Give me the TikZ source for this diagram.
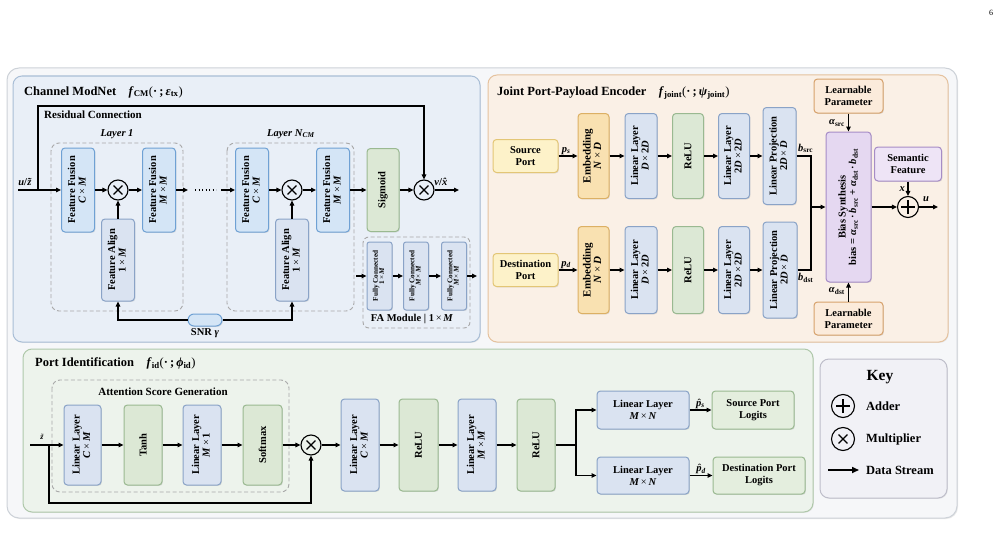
\documentclass[tikz,border=0pt]{standalone}
\usepackage{fontspec}
\setmainfont{Liberation Serif}
\usepackage{graphicx}
\usetikzlibrary{arrows.meta,shadows}

\definecolor{frameF}{HTML}{F6F7F9}
\definecolor{frameD}{HTML}{CDD2D8}
\definecolor{blueF}{HTML}{E9EFF7}
\definecolor{blueD}{HTML}{A9BED6}
\definecolor{orF}{HTML}{FAF0E6}
\definecolor{orD}{HTML}{E5C29E}
\definecolor{grF}{HTML}{EDF3EC}
\definecolor{grD}{HTML}{AFC8AA}
\definecolor{keyF}{HTML}{F1F1F6}
\definecolor{keyD}{HTML}{BEBECA}
\definecolor{ffF}{HTML}{D4E5F6}
\definecolor{ffD}{HTML}{6FA1D4}
\definecolor{llF}{HTML}{DAE3F1}
\definecolor{llD}{HTML}{8AA3C7}
\definecolor{gbF}{HTML}{DCE8D5}
\definecolor{gbD}{HTML}{9AB991}
\definecolor{ypF}{HTML}{FDF2C9}
\definecolor{ypD}{HTML}{E3C676}
\definecolor{emF}{HTML}{F9E1B1}
\definecolor{emD}{HTML}{DCB064}
\definecolor{lpF}{HTML}{FBEBDB}
\definecolor{lpD}{HTML}{D7A26C}
\definecolor{bsF}{HTML}{E5D8F1}
\definecolor{bsD}{HTML}{A68CC6}
\definecolor{sfF}{HTML}{EEE4F6}
\definecolor{lgF}{HTML}{E4EEDE}
\definecolor{dashC}{HTML}{A8A8A8}

\newcommand{\mi}[1]{\textbf{\textit{#1}}}
\newcommand{\vt}[2]{\rotatebox{90}{\begin{tabular}{@{}c@{}}#1\\[-1.5pt]#2\end{tabular}}}
\newcommand{\vo}[1]{\rotatebox{90}{#1}}
\newcommand{\tx}{\,{\mdseries ×}\,}
% accent placed over a bold italic letter, without extra width
\newcommand{\accit}[2]{\leavevmode\setbox0\hbox{\mi{#2}}\rlap{\hbox to \wd0{\hss\kern0.12em{\mdseries #1}\hss}}\box0}

\tikzset{
  conn/.style={line width=1.1pt, -{Triangle[length=5pt,width=4.5pt]}},
  plain/.style={line width=1.1pt},
  bx/.style={draw, rounded corners=3.5pt, line width=1pt, inner sep=0pt, align=center,
    font=\fontsize{10.5}{12}\selectfont\bfseries,
    drop shadow={shadow xshift=0.9pt, shadow yshift=-0.9pt, opacity=0.22}},
  sz/.style 2 args={minimum width=#1pt, minimum height=#2pt},
  ffbox/.style={bx, fill=ffF, draw=ffD},
  llbox/.style={bx, fill=llF, draw=llD},
  gbox/.style={bx, fill=gbF, draw=gbD},
  ypbox/.style={bx, fill=ypF, draw=ypD},
  embox/.style={bx, fill=emF, draw=emD},
  lpbox/.style={bx, fill=lpF, draw=lpD},
  bsbox/.style={bx, fill=bsF, draw=bsD},
  sfbox/.style={bx, fill=sfF, draw=bsD},
  lgbox/.style={bx, fill=lgF, draw=gbD},
  panel/.style={line width=1pt, rounded corners=9pt,
    drop shadow={shadow xshift=0.8pt, shadow yshift=-0.8pt, opacity=0.15}},
  dbox/.style={draw=dashC, line width=0.9pt, dashed, dash pattern=on 4pt off 2.5pt, rounded corners=8pt},
  ttl/.style={font=\fontsize{12.5}{14}\selectfont\bfseries, anchor=west, inner sep=0pt},
  lab/.style={font=\fontsize{10.5}{12}\selectfont\bfseries, inner sep=1pt},
  keyt/.style={font=\fontsize{12.5}{14}\selectfont\bfseries, anchor=west, inner sep=0pt},
  mult/.style={circle, draw, line width=1.1pt, minimum size=20pt, inner sep=0pt,
    path picture={\draw[line width=1.1pt]
      ([xshift=-4.4pt,yshift=-4.4pt]path picture bounding box.center) -- ([xshift=4.4pt,yshift=4.4pt]path picture bounding box.center)
      ([xshift=-4.4pt,yshift=4.4pt]path picture bounding box.center) -- ([xshift=4.4pt,yshift=-4.4pt]path picture bounding box.center);}},
  adder/.style={circle, draw, line width=1.1pt, minimum size=21pt, inner sep=0pt,
    path picture={\draw[line width=1.1pt]
      ([xshift=-7pt]path picture bounding box.center) -- ([xshift=7pt]path picture bounding box.center)
      ([yshift=-7pt]path picture bounding box.center) -- ([yshift=7pt]path picture bounding box.center);}},
}

\begin{document}
\begin{tikzpicture}[x=1pt,y=-1pt]
\useasboundingbox (0,0) rectangle (1001,535);

% page number
\node[font=\fontsize{8}{9}\selectfont, inner sep=0pt] (pg) at (991,13) {6};

% outer frame and panels
\draw[fill=frameF, draw=frameD, line width=1pt, rounded corners=12pt,
  drop shadow={shadow xshift=1pt, shadow yshift=-1pt, opacity=0.18}] (7,68) rectangle (957,518);
\draw[panel, fill=blueF, draw=blueD] (13,76) rectangle (480,342);
\draw[panel, fill=orF, draw=orD] (488,75) rectangle (948,342);
\draw[panel, fill=grF, draw=grD] (23,349) rectangle (813,512);
\draw[panel, fill=keyF, draw=keyD] (820,359) rectangle (947,498);

%================ Channel ModNet
\node[ttl] (t1) at (24,92) {Channel ModNet\quad \mi{f}\textsubscript{CM}{\mdseries(}·\,;\,\mi{ε}\textsubscript{tx}{\mdseries)}};
\node[lab, anchor=west, font=\fontsize{11}{13}\selectfont\bfseries] (rc) at (43,115) {Residual Connection};

\draw[dbox] (51,143) rectangle (183,311);
\draw[dbox] (227,143) rectangle (354,311);
\node[lab] (l1) at (117,134) {\textit{Layer 1}};
\node[lab] (lN) at (291,134) {\textit{Layer N}\textsubscript{\textit{CM}}};

\node[ffbox, sz={33}{84}] (ff1) at (78,190) {\vt{Feature Fusion}{\mi{C}\tx\mi{M}}};
\node[mult] (m1) at (118,190) {};
\node[ffbox, sz={33}{84}] (ff2) at (159,190) {\vt{Feature Fusion}{\mi{M}\tx\mi{M}}};
\node[llbox, sz={33}{82}] (fa1) at (118,260) {\vt{Feature Align}{1\tx\mi{M}}};

\node[ffbox, sz={33}{84}] (ff3) at (252,190) {\vt{Feature Fusion}{\mi{C}\tx\mi{M}}};
\node[mult] (m2) at (292,190) {};
\node[ffbox, sz={33}{84}] (ff4) at (333,190) {\vt{Feature Fusion}{\mi{M}\tx\mi{M}}};
\node[llbox, sz={33}{82}] (fa2) at (292,260) {\vt{Feature Align}{1\tx\mi{M}}};

\node[gbox, sz={32}{83}] (sig) at (383,190) {\vo{Sigmoid}};
\node[mult] (m3) at (424,190) {};

\node[ffbox, sz={34}{12}, rounded corners=6pt] (snr) at (205,320) {};
\node[lab] (snrl) at (205,333) {SNR \mi{γ}};

\coordinate (cin) at (18,190);
\coordinate (rj) at (38,190);
\coordinate (rtop) at (38,106);
\coordinate (cout) at (459,190);
\coordinate (dA) at (188,190);
\coordinate (dB) at (195,190);
\coordinate (dC) at (216,190);
\coordinate (dD) at (221,190);

\draw[conn] (cin) -- (ff1);
\draw[conn] (rj) -- (rtop) -| (m3);
\draw[conn] (ff1) -- (m1);
\draw[conn] (m1) -- (ff2);
\draw[conn] (fa1) -- (m1);
\draw[conn] (ff2) -- (dA);
\draw[line width=1.1pt, dash pattern=on 1.3pt off 2.2pt] (dB) -- (dC);
\draw[conn] (dD) -- (ff3);
\draw[conn] (ff3) -- (m2);
\draw[conn] (m2) -- (ff4);
\draw[conn] (fa2) -- (m2);
\draw[conn] (ff4) -- (sig);
\draw[conn] (sig) -- (m3);
\draw[conn] (m3) -- (cout);
\draw[conn] (snr.west) -| (fa1);
\draw[conn] (snr.east) -| (fa2);
\node[lab] (ulab) at (27,182) {\mi{u}/\mi{\~{z}}};
\node[lab] (vlab) at (442,182) {\mi{v}/\mi{\^{x}}};

% FA module
\draw[dbox, rounded corners=6pt] (363,237) rectangle (470,328);
\node[lab] (fal) at (412,319) {FA Module | 1\tx\mi{M}};
\tikzset{fcbox/.style={llbox, sz={25}{68}, rounded corners=2.5pt, font=\fontsize{7.2}{7.6}\selectfont\bfseries}}
\node[fcbox] (fc1) at (379.5,276) {\vt{Fully Connected}{1\tx\mi{M}}};
\node[fcbox] (fc2) at (416,276) {\vt{Fully Connected}{\mi{M}\tx\mi{M}}};
\node[fcbox] (fc3) at (454,276) {\vt{Fully Connected}{\mi{M}\tx\mi{M}}};
\coordinate (fcin) at (356,276);
\coordinate (fcout) at (477,276);
\draw[conn] (fcin) -- (fc1);
\draw[conn] (fc1) -- (fc2);
\draw[conn] (fc2) -- (fc3);
\draw[conn] (fc3) -- (fcout);

%================ Joint Port-Payload Encoder
\node[ttl] (t2) at (497,93) {Joint Port-Payload Encoder\quad \mi{f}\textsubscript{joint}{\mdseries(}·\,;\,\mi{ψ}\textsubscript{joint}{\mdseries)}};

\node[ypbox, sz={65}{33}] (src) at (525.5,156) {Source\\Port};
\node[embox, sz={31}{85}, font=\fontsize{11}{12}\selectfont\bfseries] (emb1) at (593.5,156) {\vt{Embedding}{\mi{N}\tx\mi{D}}};
\node[llbox, sz={32}{85}] (lin1a) at (641,156) {\vt{Linear Layer}{\mi{D}\tx2\mi{D}}};
\node[gbox, sz={31}{85}] (relu1) at (688,156) {\vo{ReLU}};
\node[llbox, sz={31}{85}] (lin1b) at (734,156) {\vt{Linear Layer}{2\mi{D}\tx2\mi{D}}};
\node[llbox, sz={33}{97}] (lp1) at (779.5,156) {\vt{Linear Projection}{2\mi{D}\tx\mi{D}}};

\node[ypbox, sz={65}{33}] (dst) at (525.5,270) {Destination\\Port};
\node[embox, sz={31}{87}, font=\fontsize{11}{12}\selectfont\bfseries] (emb2) at (593.5,270) {\vt{Embedding}{\mi{N}\tx\mi{D}}};
\node[llbox, sz={32}{87}] (lin2a) at (641,270) {\vt{Linear Layer}{\mi{D}\tx2\mi{D}}};
\node[gbox, sz={31}{87}] (relu2) at (688,270) {\vo{ReLU}};
\node[llbox, sz={31}{87}] (lin2b) at (734,270) {\vt{Linear Layer}{2\mi{D}\tx2\mi{D}}};
\node[llbox, sz={34}{96}] (lp2) at (780,270) {\vt{Linear Projection}{2\mi{D}\tx\mi{D}}};

\node[bsbox, sz={45}{150}] (bs) at (848.5,207) {\vt{Bias Synthesis}{bias = \mi{α}\textsubscript{src}\,·\,\mi{b}\textsubscript{src} + \mi{α}\textsubscript{dst}\,·\,\mi{b}\textsubscript{dst}}};
\node[lpbox, sz={69}{34}] (lpt) at (848.5,96) {Learnable\\Parameter};
\node[lpbox, sz={69}{33}] (lpb) at (848.5,318.5) {Learnable\\Parameter};
\node[sfbox, sz={67}{34}] (sem) at (908,164) {Semantic\\Feature};
\node[adder] (add) at (908,207) {};

\coordinate (jn) at (811,207);
\coordinate (uout) at (938,207);

\draw[conn] (src) -- node[lab, above, pos=0.4] (psl) {\mi{p}\textsubscript{\mi{s}}} (emb1);
\draw[conn] (emb1) -- (lin1a);
\draw[conn] (lin1a) -- (relu1);
\draw[conn] (relu1) -- (lin1b);
\draw[conn] (lin1b) -- (lp1);
\draw[conn] (dst) -- node[lab, above, pos=0.4] (pdl) {\mi{p}\textsubscript{\mi{d}}} (emb2);
\draw[conn] (emb2) -- (lin2a);
\draw[conn] (lin2a) -- (relu2);
\draw[conn] (relu2) -- (lin2b);
\draw[conn] (lin2b) -- (lp2);
\draw[plain] (lp1) -| (jn);
\draw[plain] (lp2) -| (jn);
\draw[conn] (jn) -- (bs);
\node[lab, anchor=south west] (bsrc) at (797,154) {\mi{b}\textsubscript{src}};
\node[lab, anchor=north west] (bdst) at (797,272) {\mi{b}\textsubscript{dst}};
\draw[conn] (lpt) -- (bs);
\draw[conn] (lpb) -- (bs);
\node[lab, anchor=east] (asrc) at (846,123) {\mi{α}\textsubscript{src}};
\node[lab, anchor=east] (adst) at (846,291) {\mi{α}\textsubscript{dst}};
\draw[conn] (sem) -- (add);
\node[lab, anchor=east] (xl) at (906,189) {\mi{x}};
\draw[conn] (bs) -- (add);
\draw[conn] (add) -- (uout);
\node[lab] (ul) at (926,199) {\mi{u}};

%================ Port Identification
\node[ttl] (t3) at (35,363) {Port Identification\quad \mi{f}\textsubscript{id}{\mdseries(}·\,;\,\mi{ϕ}\textsubscript{id}{\mdseries)}};
\draw[dbox] (52,380) rectangle (289,492);
\node[lab, font=\fontsize{11}{13}\selectfont\bfseries] (asg) at (163,392) {Attention Score Generation};

\node[llbox, sz={37}{80}] (pl1) at (82.5,445) {\vt{Linear Layer}{\mi{C}\tx\mi{M}}};
\node[gbox, sz={38}{80}] (tanh) at (143,445) {\vo{Tanh}};
\node[llbox, sz={38}{80}] (pl2) at (202,445) {\vt{Linear Layer}{\mi{M}\tx1}};
\node[gbox, sz={39}{80}] (soft) at (262.5,445) {\vo{Softmax}};
\node[mult] (m4) at (311,445) {};
\node[llbox, sz={38}{92}] (pl3) at (360,445) {\vt{Linear Layer}{\mi{C}\tx\mi{M}}};
\node[gbox, sz={39}{92}] (relu3) at (418.5,445) {\vo{ReLU}};
\node[llbox, sz={38}{92}] (pl4) at (477,445) {\vt{Linear Layer}{\mi{M}\tx\mi{M}}};
\node[gbox, sz={38}{92}] (relu4) at (536,445) {\vo{ReLU}};
\node[llbox, sz={92}{38}] (ll5) at (643,410) {Linear Layer\\\mi{M}\tx\mi{N}};
\node[llbox, sz={92}{37}] (ll6) at (643,475.5) {Linear Layer\\\mi{M}\tx\mi{N}};
\node[lgbox, sz={82}{38}] (spl) at (753,410) {Source Port\\Logits};
\node[lgbox, sz={92}{37}] (dpl) at (759,475.5) {Destination Port\\Logits};

\coordinate (pin) at (30,445);
\coordinate (pj) at (49,445);
\coordinate (pjb) at (49,503);
\coordinate (sp) at (576,445);

\node[lab, font=\fontsize{8}{9}\selectfont\bfseries] (zl) at (42,437) {\accit{˜}{z}};
\draw[conn] (pin) -- (pl1);
\draw[conn] (pj) -- (pjb) -| (m4);
\draw[conn] (pl1) -- (tanh);
\draw[conn] (tanh) -- (pl2);
\draw[conn] (pl2) -- (soft);
\draw[conn] (soft) -- (m4);
\draw[conn] (m4) -- (pl3);
\draw[conn] (pl3) -- (relu3);
\draw[conn] (relu3) -- (pl4);
\draw[conn] (pl4) -- (relu4);
\draw[plain] (relu4) -- (sp);
\draw[conn] (sp) |- (ll5);
\draw[conn] (sp) |- (ll6);
\draw[conn] (ll5) -- node[lab, above] (phs) {\accit{ˆ}{p}\textsubscript{\mi{s}}} (spl);
\draw[conn] (ll6) -- node[lab, above] (phd) {\accit{ˆ}{p}\textsubscript{\mi{d}}} (dpl);

%================ Key
\node[font=\fontsize{15.5}{17}\selectfont\bfseries] (key) at (880,377) {Key};
\node[adder, minimum size=23pt] (kadd) at (843,406) {};
\node[mult, minimum size=23pt] (kmul) at (843,439) {};
\node[keyt] (kt1) at (866,406) {Adder};
\node[keyt] (kt2) at (866,439) {Multiplier};
\node[keyt] (kt3) at (866,470) {Data Stream};
\coordinate (ka) at (828,470);
\coordinate (kb) at (859,470);
\draw[line width=1.6pt, -{Triangle[length=7pt,width=6pt]}] (ka) -- (kb);
\end{tikzpicture}
\end{document}
